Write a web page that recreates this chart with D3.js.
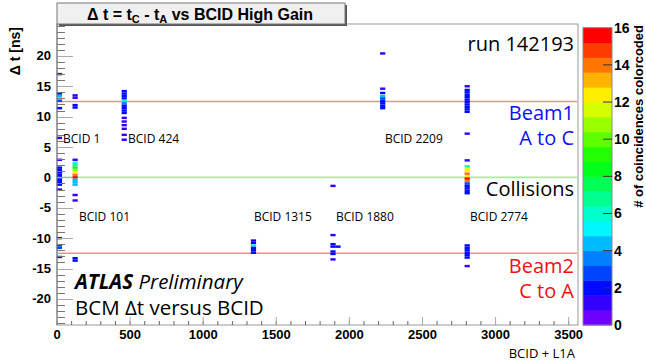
<!DOCTYPE html>
<html>
<head>
<meta charset="utf-8">
<script src="https://cdn.jsdelivr.net/npm/d3@7"></script>
<style>
  body { margin: 0; background: #fff; }
  svg { display: block; }
  .axis-num { font-family: "Liberation Sans", Arial, sans-serif; font-weight: bold; font-size: 13px; fill: #000; }
  .note { font-family: "Open Sans", "Noto Sans", sans-serif; fill: #000; }
</style>
</head>
<body>
<svg id="chart" width="646" height="364"></svg>
<script>
// histogram binning (BCID units, ns)
const binWidth = 35.64;
const binHeight = 0.4;

// column positions (BCID + L1A) of the filled bins
const columnBcid = [17, 124, 460, 1344, 1888, 1922, 2228, 2806];

// [dt in ns, coincidences] for each column
const col0 = [[17.0, 1.4], [13.8, 2], [13.4, 4], [13.0, 5.2], [12.6, 3], [11.4, 2],
  [6.5, 1.4], [2.9, 1.4], [1.6, 2.2], [1.2, 2.2], [0.8, 2.2], [0.4, 2.2], [0.0, 2.2],
  [-0.4, 2.2], [-0.8, 2.2], [-1.2, 2.2], [-2.0, 1.4], [-10.0, 1.4], [-11.2, 3], [-11.6, 3], [-13.1, 1.4]];
const col1 = [[13.5, 1.4], [13.1, 1.4], [11.9, 2], [11.5, 2], [2.9, 1.4], [2.4, 5.2], [2.0, 6.8],
  [1.6, 8.5], [1.2, 11], [0.8, 12.3], [0.4, 14], [0.0, 15.5], [-0.4, 4.4], [-0.8, 4.4], [-1.2, 4.4],
  [-2.9, 1.4], [-3.8, 1.4], [-13.3, 2], [-13.7, 2]];
const col2 = [[14.2, 2], [13.8, 2], [13.4, 2], [13.0, 2.4], [12.6, 6.4], [12.2, 3.5], [11.8, 2],
  [11.4, 2], [11.0, 2], [10.6, 2], [9.8, 1.4], [9.2, 1.4], [8.6, 1.4], [8.0, 1.4], [7.0, 1.4], [6.2, 1.4]];
const col3 = [[-10.4, 2], [-10.8, 2], [-11.2, 5], [-11.6, 2], [-12.0, 2], [-12.4, 2]];
const col4 = [[-1.4, 1.2], [-9.5, 1.4], [-11.0, 2], [-11.4, 2], [-12.2, 2], [-12.6, 2], [-13.5, 1.4]];
const col5 = [[-11.4, 2]];
const col6 = [[20.4, 1.2], [14.6, 1.4], [13.9, 2], [13.4, 4], [13.0, 3], [12.6, 2.4], [12.2, 2.4],
  [11.8, 2.4], [11.4, 2.4]];
const col7 = [[15.0, 1.4], [14.4, 2], [14.0, 2], [13.6, 2], [13.2, 2], [12.8, 2], [12.4, 2], [12.0, 2],
  [11.6, 2], [11.2, 2], [10.8, 2], [7.2, 1.4], [2.8, 1.4], [1.8, 6.8], [1.4, 12.3], [1.0, 12.5],
  [0.6, 13.6], [0.2, 12.2], [-0.2, 15.5], [-0.6, 14], [-1.0, 3], [-1.4, 2], [-1.8, 2], [-2.2, 2],
  [-2.6, 2], [-11.2, 2], [-11.6, 2], [-12.0, 2], [-12.4, 2], [-12.8, 2], [-13.2, 2], [-14.6, 1.4]];
const columnCells = [col0, col1, col2, col3, col4, col5, col6, col7];

// axes
const xTicks = d3.range(0, 3501, 500);
const yTicks = d3.range(-20, 21, 5);
const zTicks = d3.range(0, 17, 2);
const zMax = 16;
const nLevels = 20;

// reference lines
const beamDt = [12.5, 0, -12.5];
const beamLineColor = ["#ff8c8c", "#a0eea0", "#ff8c8c"];

// annotations
const bcidLabels = ["BCID 1", "BCID 424", "BCID 2209", "BCID 101", "BCID 1315", "BCID 1880", "BCID 2774"];
const bcidLabelX = [41, 486, 2243, 150, 1347, 1908, 2825];
const bcidLabelDt = [5.6, 5.6, 5.6, -7.2, -7.2, -7.2, -7.2];

const svg = d3.select("#chart");

const x = d3.scaleLinear().domain([0, 3564]).range([57, 578]);
const y = d3.scaleLinear().domain([-24.3, 25.25]).range([325, 24]);
const z = d3.scaleLinear().domain([0, zMax]).range([325, 27.7]);

const palette = d3.range(nLevels).map(j => d3.hsl(280 * (1 - (j + 1) / nLevels), 1, 0.5).formatHex());
const color = n => palette[Math.min(nLevels - 1, Math.floor(n / (zMax / nLevels)))];

// frame
svg.append("rect")
  .attr("x", x(0)).attr("y", y(25.25))
  .attr("width", x(3564) - x(0)).attr("height", y(-24.3) - y(25.25))
  .attr("fill", "none").attr("stroke", "#999");

// horizontal guide lines
const crisp = v => Math.round(v) + 0.5;
svg.append("g").attr("class", "guides").selectAll("line").data(beamDt).join("line")
  .attr("x1", x(0) + 1).attr("x2", x(3564) - 1)
  .attr("y1", d => y(d)).attr("y2", d => y(d))
  .style("stroke", (d, i) => beamLineColor[i]).style("stroke-width", 1.6);

// cells
const cells = columnBcid.flatMap((b, i) => columnCells[i].map(([dt, n]) => ({ b, dt, n })));
svg.append("g").selectAll("rect").data(cells).join("rect")
  .attr("x", d => x(d.b - binWidth / 2))
  .attr("width", x(binWidth) - x(0))
  .attr("y", d => y(d.dt + binHeight / 2))
  .attr("height", y(0) - y(binHeight))
  .attr("fill", d => color(d.n));

// y axis
const yAx = svg.append("g");
yAx.append("g").selectAll("line").data(d3.range(-24, 26, 1)).join("line")
  .attr("x1", x(0)).attr("x2", x(0) + 8)
  .attr("y1", d => crisp(y(d))).attr("y2", d => crisp(y(d)))
  .attr("stroke", "#777");
yAx.append("g").selectAll("line").data(yTicks).join("line")
  .attr("x1", x(0)).attr("x2", x(0) + 16)
  .attr("y1", d => crisp(y(d))).attr("y2", d => crisp(y(d)))
  .attr("stroke", "#aaa");
yAx.append("g").selectAll("text").data(yTicks).join("text")
  .attr("class", "axis-num")
  .attr("x", 51).attr("y", d => y(d)).attr("dy", "0.35em")
  .attr("text-anchor", "end").text(d => d);
svg.append("line")
  .attr("x1", x(0)).attr("x2", x(0)).attr("y1", y(25.25)).attr("y2", y(-24.3))
  .attr("stroke", "#777");

// x axis
const xAx = svg.append("g");
xAx.append("g").selectAll("line").data(d3.range(0, 3564, 100)).join("line")
  .attr("x1", d => x(d)).attr("x2", d => x(d))
  .attr("y1", y(-24.3)).attr("y2", y(-24.3) - 4)
  .attr("stroke", "#666");
xAx.append("g").selectAll("line").data(xTicks).join("line")
  .attr("x1", d => x(d)).attr("x2", d => x(d))
  .attr("y1", y(-24.3)).attr("y2", y(-24.3) - 8)
  .attr("stroke", "#aaa");
xAx.append("g").selectAll("text").data(xTicks).join("text")
  .attr("class", "axis-num")
  .attr("x", d => x(d)).attr("y", 339)
  .attr("text-anchor", "middle").text(d => d);

svg.append("text").attr("class", "note")
  .attr("x", 575).attr("y", 358).attr("text-anchor", "end")
  .style("font-size", "13px").text("BCID + L1A");

svg.append("text").attr("class", "axis-num")
  .attr("transform", "translate(20,27) rotate(-90)")
  .attr("text-anchor", "end").style("font-size", "14px")
  .text("\u0394 t [ns]");

// colour bar
const bandH = (z(0) - z(zMax)) / nLevels;
svg.append("g").selectAll("rect").data(palette).join("rect")
  .attr("x", 583).attr("width", 29)
  .attr("y", (d, j) => z((j + 1) * zMax / nLevels))
  .attr("height", bandH + 0.5)
  .attr("fill", d => d);
svg.append("rect")
  .attr("x", 583).attr("y", z(zMax)).attr("width", 29).attr("height", z(0) - z(zMax))
  .attr("fill", "none").attr("stroke", "#888");
svg.append("g").selectAll("line").data(zTicks.slice(1, -1)).join("line")
  .attr("x1", 603).attr("x2", 612)
  .attr("y1", d => z(d)).attr("y2", d => z(d))
  .attr("stroke", "#333");
svg.append("g").selectAll("text").data(zTicks).join("text")
  .attr("class", "axis-num").style("font-size", "14px")
  .attr("x", 614).attr("y", d => z(d)).attr("dy", "0.35em")
  .text(d => d);
svg.append("text").attr("class", "axis-num")
  .attr("transform", "translate(643,25) rotate(-90)")
  .attr("text-anchor", "end").style("font-size", "13px")
  .text("# of coincidences colorcoded");

// title box
svg.append("rect").attr("x", 59).attr("y", 5).attr("width", 288).attr("height", 21).attr("fill", "#555");
svg.append("rect").attr("x", 57).attr("y", 3).attr("width", 288).attr("height", 21)
  .attr("fill", "#f0f0f0").attr("stroke", "#777");
const title = svg.append("text").attr("class", "axis-num")
  .attr("x", 200).attr("y", 19.5).attr("text-anchor", "middle").style("font-size", "16px");
title.append("tspan").text("\u0394 t = t");
title.append("tspan").attr("baseline-shift", "-25%").style("font-size", "11px").text("C");
title.append("tspan").text(" - t");
title.append("tspan").attr("baseline-shift", "-25%").style("font-size", "11px").text("A");
title.append("tspan").text(" vs BCID High Gain");

// annotations
svg.append("g").selectAll("text").data(bcidLabels).join("text")
  .attr("class", "note").style("font-size", "12px")
  .attr("x", (d, i) => x(bcidLabelX[i])).attr("y", (d, i) => y(bcidLabelDt[i]))
  .text(d => d);

svg.append("text").attr("class", "note").style("font-size", "20px")
  .attr("x", 574).attr("y", 51).attr("text-anchor", "end").text("run 142193");

const side = [
  ["Beam1", 120, "#1010f0"], ["A to C", 145, "#1010f0"],
  ["Collisions", 196, "#000"],
  ["Beam2", 273, "#f01010"], ["C to A", 298, "#f01010"]
];
svg.append("g").selectAll("text").data(side).join("text")
  .attr("class", "note").style("font-size", "20px")
  .attr("x", 574).attr("y", d => d[1]).attr("text-anchor", "end")
  .style("fill", d => d[2]).text(d => d[0]);

const atlas = svg.append("text").attr("class", "note")
  .attr("x", 75).attr("y", 289).style("font-size", "20.5px").style("font-style", "italic");
atlas.append("tspan").style("font-weight", "bold").text("ATLAS");
atlas.append("tspan").text(" Preliminary");
svg.append("text").attr("class", "note")
  .attr("x", 75).attr("y", 315).style("font-size", "20.5px").text("BCM \u0394t versus BCID");
</script>
</body>
</html>
